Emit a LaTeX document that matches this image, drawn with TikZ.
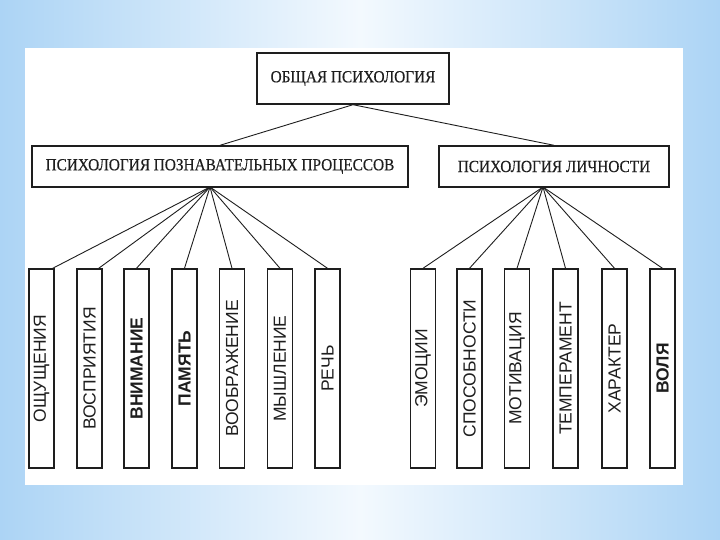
\documentclass[tikz,border=0pt]{standalone}
\usepackage{fontspec}
\setmainfont{Liberation Serif}
\newfontfamily\headfont[FakeStretch=0.9,FakeBold=0.3]{Liberation Serif}
\newfontfamily\labelfont{Liberation Sans}
\usepackage{tikz}
\definecolor{bgside}{RGB}{172,212,245}
\definecolor{bgmid}{RGB}{243,249,254}
\definecolor{ink}{RGB}{30,30,30}

\begin{document}
\begin{tikzpicture}[x=1pt,y=-1pt,
    headbox/.style={draw=ink, line width=1.4pt, inner sep=0pt, text=ink,
      font=\headfont\fontsize{17}{19}\selectfont},
    leafbox/.style={draw=ink, line width=1.4pt, inner sep=0pt, text=ink,
      rotate=90, minimum width=199pt, minimum height=25pt,
      font=\labelfont\fontsize{17.5}{19}\selectfont},
    link/.style={draw=ink, line width=0.9pt}]
      \useasboundingbox (0,0) rectangle (720,540);
      \shade[left color=bgside, right color=bgside, middle color=bgmid] (0,0) rectangle (720,540);
      \fill[white] (25,48) rectangle (683,485);

      \node[headbox, minimum width=192pt, minimum height=51pt] (general) at (353,78.5) {ОБЩАЯ ПСИХОЛОГИЯ};
      \node[headbox, minimum width=376pt, minimum height=41pt] (cog) at (220,166.5) {ПСИХОЛОГИЯ ПОЗНАВАТЕЛЬНЫХ ПРОЦЕССОВ};
      \node[headbox, minimum width=230pt, minimum height=41pt] (pers) at (554,166.5) {ПСИХОЛОГИЯ ЛИЧНОСТИ};

      \draw[link] (general.south) -- (cog.north);
      \draw[link] (general.south) -- (pers.north);

      \node[leafbox] (sens) at (41.5,368.5) {ОЩУЩЕНИЯ};
      \node[leafbox] (perc) at (89.5,368.5) {ВОСПРИЯТИЯ};
      \node[leafbox] (attn) at (136.5,368.5) {\bfseries ВНИМАНИЕ};
      \node[leafbox] (mem) at (184.5,368.5) {\bfseries ПАМЯТЬ};
      \node[leafbox] (imag) at (232,368.5) {ВООБРАЖЕНИЕ};
      \node[leafbox] (think) at (280,368.5) {МЫШЛЕНИЕ};
      \node[leafbox] (speech) at (327.5,368.5) {РЕЧЬ};

      \node[leafbox] (emo) at (423,368.5) {ЭМОЦИИ};
      \node[leafbox] (abil) at (469.5,368.5) {СПОСОБНОСТИ};
      \node[leafbox] (motiv) at (517,368.5) {МОТИВАЦИЯ};
      \node[leafbox] (temper) at (565.5,368.5) {ТЕМПЕРАМЕНТ};
      \node[leafbox] (charac) at (614.5,368.5) {ХАРАКТЕР};
      \node[leafbox] (will) at (662.5,368.5) {\bfseries ВОЛЯ};

      \coordinate (cogfan) at (210,187);
      \coordinate (persfan) at (543,187);

      \draw[link] (cogfan) -- ([xshift=-2pt]sens.south east);
      \draw[link] (cogfan) -- ([xshift=-4pt]perc.south east);
      \draw[link] (cogfan) -- (attn.east);
      \draw[link] (cogfan) -- (mem.east);
      \draw[link] (cogfan) -- (imag.east);
      \draw[link] (cogfan) -- (think.east);
      \draw[link] (cogfan) -- (speech.east);

      \draw[link] (persfan) -- (emo.east);
      \draw[link] (persfan) -- (abil.east);
      \draw[link] (persfan) -- (motiv.east);
      \draw[link] (persfan) -- (temper.east);
      \draw[link] (persfan) -- (charac.east);
      \draw[link] (persfan) -- (will.east);
    \end{tikzpicture}
\end{document}
